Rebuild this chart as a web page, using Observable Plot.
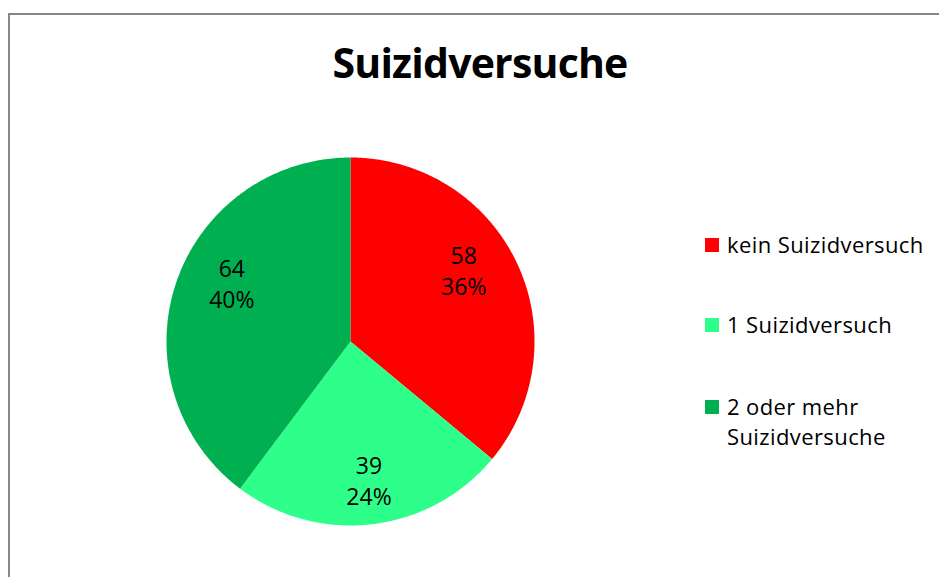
<!DOCTYPE html>
<html>
<head>
<meta charset="utf-8">
<script src="https://cdn.jsdelivr.net/npm/d3@7"></script>
<script src="https://cdn.jsdelivr.net/npm/@observablehq/plot@0.6"></script>
<style>
  html, body { margin: 0; padding: 0; background: #fff; }
  #wrap { position: relative; width: 939px; height: 577px; overflow: hidden; font-family: "Open Sans", sans-serif; }
  #frame { position: absolute; left: 8px; top: 13px; width: 960px; height: 600px; border-left: 2px solid #868686; border-top: 2px solid #868686; }
  #title { position: absolute; left: 0; width: 960px; top: 36px; text-align: center; font-family: "Open Sans", sans-serif; font-weight: 700; font-size: 41px; letter-spacing: -0.8px; color: #000; line-height: 52px; }
  #chart { position: absolute; left: 0; top: 0; }
  .leg { position: absolute; left: 705px; font-size: 22px; letter-spacing: 0.4px; color: #000; line-height: 30px; }
  .leg .sw { position: absolute; left: 0; width: 14px; height: 14px; }
  .leg .tx { position: absolute; left: 22px; white-space: nowrap; }
</style>
</head>
<body>
<div id="wrap">
  <div id="frame"></div>
  <div id="title">Suizidversuche</div>
  <div id="chart"></div>
  <div id="legend"></div>
</div>
<script>
const categories = ["kein Suizidversuch", "1 Suizidversuch", "2 oder mehr Suizidversuche"];
const legendLines = [["kein Suizidversuch"], ["1 Suizidversuch"], ["2 oder mehr", "Suizidversuche"]];
const values = [58, 39, 64];
const colors = ["#FF0000", "#2EFF8A", "#00B050"];

const total = d3.sum(values);
const arcs = d3.pie().sort(null).value(d => d)(values);

// polygon points for each slice (angle 0 at 12 o'clock, clockwise)
const points = [];
arcs.forEach((a, i) => {
  points.push({key: categories[i], x: 0, y: 0});
  const n = 200;
  for (let k = 0; k <= n; k++) {
    const t = a.startAngle + (a.endAngle - a.startAngle) * k / n;
    points.push({key: categories[i], x: Math.sin(t), y: Math.cos(t)});
  }
});

const labelR = [0.68, 0.86, 0.68];
const labels = arcs.map((a, i) => {
  const m = (a.startAngle + a.endAngle) / 2;
  return {
    x: Math.sin(m) * labelR[i],
    y: Math.cos(m) * labelR[i],
    text: values[i] + "\n" + Math.round(values[i] / total * 100) + "%"
  };
});

const plot = Plot.plot({
  width: 939,
  height: 577,
  marginLeft: 166,
  marginRight: 405,
  marginTop: 157,
  marginBottom: 52,
  x: {domain: [-1, 1], axis: null},
  y: {domain: [-1, 1], axis: null},
  color: {domain: categories, range: colors},
  style: {background: "transparent", fontFamily: "Open Sans, sans-serif"},
  marks: [
    Plot.line(points, {x: "x", y: "y", z: "key", fill: "key", stroke: null, curve: "linear-closed"}),
    Plot.text(labels, {x: "x", y: "y", text: "text", fontSize: 23, lineHeight: 1.35, dy: -19, fill: "#000"})
  ]
});
document.getElementById("chart").appendChild(plot);

// legend
const legTops = [237, 317, 399];
const legend = document.getElementById("legend");
categories.forEach((c, i) => {
  const row = document.createElement("div");
  row.className = "leg";
  row.style.top = (legTops[i] - 8) + "px";
  const sw = document.createElement("div");
  sw.className = "sw";
  sw.style.background = colors[i];
  sw.style.top = "9px";
  row.appendChild(sw);
  legendLines[i].forEach((line, j) => {
    const tx = document.createElement("div");
    tx.className = "tx";
    tx.style.top = (j * 30) + "px";
    tx.textContent = line;
    row.appendChild(tx);
  });
  legend.appendChild(row);
});
</script>
</body>
</html>
